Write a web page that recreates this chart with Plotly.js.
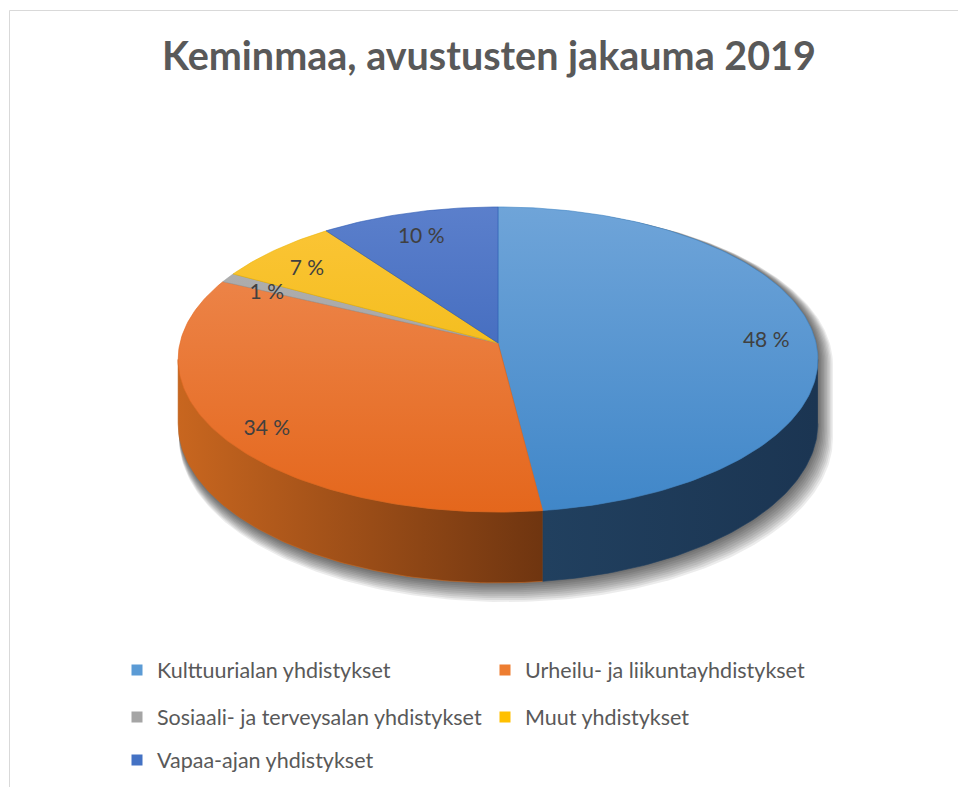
<!DOCTYPE html>
<html><head><meta charset="utf-8">
<script src="https://cdn.plot.ly/plotly-3.0.1.min.js"></script>
<style>html,body{margin:0;padding:0;background:#fff}</style>
</head><body><div id="chart" style="width:958px;height:787px"></div>
<script>
// ---- data ----
const categories = ["Kulttuurialan yhdistykset", "Urheilu- ja liikuntayhdistykset", "Sosiaali- ja terveysalan yhdistykset", "Muut yhdistykset", "Vapaa-ajan yhdistykset"];
const shares = [48, 34, 1, 7, 10];
const valueLabels = ["48 %", "34 %", "1 %", "7 %", "10 %"];
const chartTitle = "Keminmaa, avustusten jakauma 2019";

// ---- styles ----
const legendColors = ["#5b9bd5", "#ed7d31", "#a5a5a5", "#ffc000", "#4472c4"];
const topColors = [["#3f86c8", "#70a5d9"], ["#e4661b", "#ef8d56"], ["#9c9c9c", "#b2b2b2"], ["#ebb400", "#fcc63a"], ["#2d5ab3", "#5c80cc"]]; // [front, back]
const wallColors = [["#21405f", "#1b3552"], ["#c8661f", "#6f3510"], ["#777", "#555"], ["#b08600", "#7a5d00"], ["#22428a", "#18305f"]]; // [left, right]
const legendRowsOf = ["legend", "legend", "legend2", "legend2", "legend3"];

// ---- 3D-pie projection geometry ----
const P = 0.108, T = 0.474, D = 0.199;
function proj(thetaDeg, r, drop) {
  const a = thetaDeg * Math.PI / 180;
  const u = r * Math.sin(a), v = r * Math.cos(a);
  const k = 1 + P * v;
  return [u / k, (v * T - drop) / k];
}
function arc(a0, a1, r, drop) {
  const n = Math.max(2, Math.ceil(Math.abs(a1 - a0)));
  const xs = [], ys = [];
  for (let i = 0; i <= n; i++) {
    const p = proj(a0 + (a1 - a0) * i / n, r, drop);
    xs.push(p[0]); ys.push(p[1]);
  }
  return [xs, ys];
}
const total = shares.reduce((s, v) => s + v, 0);
const starts = [], ends = [];
let acc = 0;
shares.forEach(v => { starts.push(acc / total * 360); acc += v; ends.push(acc / total * 360); });
const silA = Math.acos(-P) * 180 / Math.PI;

const traces = [];
// soft shadow
for (let j = 10; j >= 1; j--) {
  const s = 1 + 0.0022 * j;
  const back = arc(360 - silA, 360 + silA, s, 0);
  const front = arc(silA, 360 - silA, s, D + 0.0028 * j);
  traces.push({
    x: back[0].concat(front[0]).map(x => x + 0.0025 * j),
    y: back[1].concat(front[1]).map(y => y - 0.0015 * j),
    mode: "lines", fill: "toself", line: {width: 0},
    fillcolor: "rgba(0,0,0,0.075)", hoverinfo: "skip", showlegend: false
  });
}
// side walls
shares.forEach((v, i) => {
  const lo = Math.max(starts[i], silA), hi = Math.min(ends[i], 360 - silA);
  if (hi <= lo) return;
  const top = arc(lo, hi, 1, 0), bot = arc(hi, lo, 1, D);
  const xs = top[0].concat(bot[0]), ys = top[1].concat(bot[1]);
  traces.push({
    x: xs, y: ys, mode: "lines", fill: "toself",
    line: {width: 0.6, color: wallColors[i][0]},
    fillgradient: {type: "horizontal", colorscale: [[0, wallColors[i][0]], [1, wallColors[i][1]]],
      start: Math.min(...xs), stop: Math.max(...xs)},
    hoverinfo: "skip", showlegend: false
  });
});
// top faces
shares.forEach((v, i) => {
  const a = arc(starts[i], ends[i], 1, 0);
  traces.push({
    x: [0].concat(a[0], [0]), y: [0].concat(a[1], [0]),
    mode: "lines", fill: "toself",
    line: {width: 0.6, color: topColors[i][0]},
    fillgradient: {type: "vertical", colorscale: [[0, topColors[i][0]], [1, topColors[i][1]]], start: -0.55, stop: 0.45},
    hoverinfo: "skip", showlegend: false
  });
});
// data labels
const lx = [], ly = [];
shares.forEach((v, i) => { const p = proj((starts[i] + ends[i]) / 2, 0.85, 0.022); lx.push(p[0]); ly.push(p[1]); });
traces.push({
  x: lx, y: ly, mode: "text", text: valueLabels, textposition: "middle center",
  textfont: {family: "Lato", size: 21, color: "#404040"}, hoverinfo: "skip", showlegend: false
});
// legend entries
categories.forEach((c, i) => {
  traces.push({
    x: [null], y: [null], mode: "markers", name: c, legend: legendRowsOf[i],
    marker: {symbol: "square", size: 11, color: legendColors[i]}, hoverinfo: "skip"
  });
});

const legendBase = {
  orientation: "h", xanchor: "left", yanchor: "middle", x: 117 / 958,
  font: {family: "Lato", size: 21.5, color: "#595959"},
  entrywidth: 323, entrywidthmode: "pixels", bgcolor: "rgba(0,0,0,0)",
  itemclick: false, itemdoubleclick: false
};
const layout = {
  width: 958, height: 787,
  margin: {l: 0, r: 0, t: 0, b: 0},
  paper_bgcolor: "#ffffff", plot_bgcolor: "rgba(0,0,0,0)",
  showlegend: true,
  title: {text: chartTitle, font: {family: "Lato", size: 39.5, weight: "bold", color: "#595959"},
    x: 489 / 958, xanchor: "center", y: 1 - 56 / 787, yanchor: "middle", yref: "container"},
  xaxis: {range: [-498 / 318, 460 / 318], visible: false, fixedrange: true},
  yaxis: {range: [-(787 - 343) / 318, 343 / 318], visible: false, fixedrange: true},
  legend: Object.assign({}, legendBase, {y: 1 - 670 / 787}),
  legend2: Object.assign({}, legendBase, {y: 1 - 717 / 787}),
  legend3: Object.assign({}, legendBase, {y: 1 - 760 / 787}),
  shapes: [{type: "rect", xref: "paper", yref: "paper", x0: 9.5 / 958, x1: 1.05, y0: -0.05, y1: 1 - 10.5 / 787,
    line: {color: "#d9d9d9", width: 1}, fillcolor: "rgba(0,0,0,0)", layer: "below"}]
};
Plotly.newPlot("chart", traces, layout, {displayModeBar: false, staticPlot: true});
</script>
</body></html>
